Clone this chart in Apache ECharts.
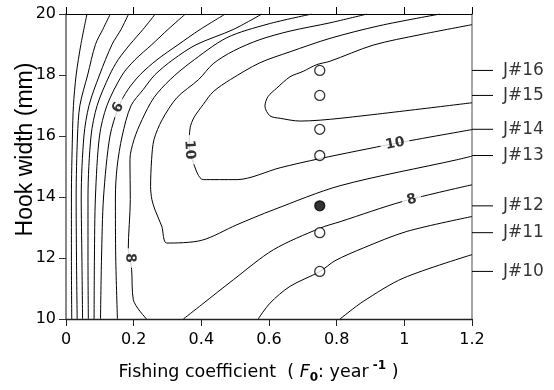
<!DOCTYPE html>
<html>
<head>
<meta charset="utf-8">
<script src="https://cdn.jsdelivr.net/npm/echarts@6/dist/echarts.min.js"></script>
<style>
  html, body { margin: 0; padding: 0; background: #fff; }
  #chart { width: 554px; height: 390px; }
</style>
</head>
<body>
<div id="chart"></div>
<script>
// axis ticks
const xTicks = [0, 0.2, 0.4, 0.6, 0.8, 1, 1.2];
const yTicks = [10, 12, 14, 16, 18, 20];

// contour lines, points are [F0, hook width]
const c1 = [[0.062, 20], [0.044, 19], [0.030, 18], [0.022, 17], [0.019, 16], [0.016, 14], [0.016, 12], [0.017, 10]];
const c2 = [[0.131, 20], [0.109, 19.5], [0.087, 19], [0.064, 18], [0.041, 17], [0.034, 16], [0.030, 14], [0.031, 12], [0.033, 10]];
const c3 = [[0.185, 20], [0.163, 19.5], [0.136, 19], [0.099, 18], [0.068, 17], [0.053, 16], [0.045, 14], [0.047, 12], [0.049, 10]];
const c4 = [[0.264, 20], [0.228, 19.5], [0.189, 19], [0.154, 18.5], [0.129, 18], [0.092, 17], [0.074, 16], [0.065, 14], [0.065, 12], [0.066, 10]];
const c5 = [[0.353, 20], [0.302, 19.5], [0.254, 19], [0.204, 18.5], [0.166, 18], [0.121, 17], [0.099, 16], [0.087, 14], [0.084, 12], [0.083, 10]];
const c6 = [[0.471, 20], [0.396, 19.49], [0.331, 18.99], [0.269, 18.5], [0.219, 18.01], [0.183, 17.52], [0.157, 16.99], [0.130, 16], [0.111, 14], [0.105, 12], [0.102, 10]];
const c6b = [[0.810, 10], [0.879, 10.58], [0.997, 11.34], [1.2, 12.11]];
const c7 = [[0.579, 20], [0.494, 19.49], [0.384, 18.99], [0.316, 18.5], [0.263, 18.01], [0.228, 17.52], [0.192, 16.99], [0.166, 16], [0.151, 14.98], [0.146, 14], [0.147, 12], [0.152, 10]];
const c7b = [[0.568, 10], [0.603, 10.52], [0.662, 11.07], [0.751, 11.56], [0.795, 11.91], [0.879, 12.33], [1.007, 12.87], [1.2, 13.36]];
const c8 = [[0.727, 20], [0.597, 19.67], [0.475, 19.22], [0.367, 18.40], [0.308, 17.85], [0.260, 17.26], [0.225, 16.54], [0.201, 15.88],
  [0.189, 15.23], [0.190, 13.92], [0.184, 12.28], [0.189, 12.0], [0.194, 11.62], [0.199, 10.63], [0.238, 10]];
const c8b = [[0.347, 10], [0.401, 10.47], [0.495, 11.29], [0.613, 12.27], [0.751, 12.98], [0.810, 13.19], [0.997, 13.86], [1.2, 14.40]];
const c9 = [[0.890, 20], [0.780, 19.71], [0.662, 19.44], [0.573, 19.16], [0.495, 18.79], [0.435, 18.37], [0.392, 17.85], [0.328, 17.26],
  [0.284, 16.53], [0.260, 15.88], [0.253, 15.22], [0.250, 14.34], [0.254, 13.91], [0.263, 13.58], [0.283, 13.04], [0.298, 12.49],
  [0.401, 12.58], [0.505, 13.09], [0.613, 13.58], [0.810, 14.37], [1.155, 15.22], [1.2, 15.34]];
const c10 = [[1.106, 20], [0.928, 19.62], [0.780, 19.20], [0.662, 18.76], [0.573, 18.40], [0.486, 17.85], [0.435, 17.45], [0.406, 17.04],
  [0.378, 16.60], [0.367, 16.27], [0.364, 15.71], [0.375, 15.16], [0.406, 14.57], [0.505, 14.57], [0.633, 14.96], [0.751, 15.26],
  [0.970, 15.75], [1.2, 16.21]];
const c11 = [[1.2, 19.65], [1.046, 19.32], [0.908, 18.98], [0.780, 18.45], [0.741, 18.34], [0.701, 18.12], [0.662, 17.94], [0.623, 17.57],
  [0.597, 17.29], [0.588, 16.98], [0.603, 16.66], [0.633, 16.58], [0.692, 16.49], [0.810, 16.58], [1.2, 17.09]];

// contour level labels
const contourLabelText = ['6', '10', '8', '10', '8'];
const contourLabelAt = [[0.154, 16.93], [0.365, 15.55], [0.189, 12.0], [0.9725, 15.75], [1.022, 13.91]];

// experiments J#10 .. J#16
const jLabels = ['J#10', 'J#11', 'J#12', 'J#13', 'J#14', 'J#15', 'J#16'];
const jHook = [11.56, 12.83, 13.71, 15.36, 16.22, 17.33, 18.15];
const jF = 0.75;
const jFilled = 'J#12';

const labelAngles = [61, -86, -88, 11, 15];
const contours = [c1, c2, c3, c4, c5, c6, c6b, c7, c7b, c8, c8b, c9, c10, c11];

const chart = echarts.init(document.getElementById('chart'));

const font = 'DejaVu Sans';
const nameRich = {
  n: {fontFamily: font, fontSize: 17.5, color: '#000', lineHeight: 24, verticalAlign: 'middle'},
  it: {fontFamily: font, fontSize: 17.5, fontStyle: 'italic', color: '#000', lineHeight: 24, verticalAlign: 'middle'},
  sub: {fontFamily: font, fontSize: 12, fontWeight: 'bold', color: '#000', lineHeight: 12, verticalAlign: 'bottom'},
  sup: {fontFamily: font, fontSize: 12, fontWeight: 'bold', color: '#000', lineHeight: 14, verticalAlign: 'top'}
};

// J marker ticks: short segments in a narrow grid to the right of the plot
const jTickData = [];
jHook.forEach(h => { jTickData.push([0, h], [1, h], '-'); });

const option = {
  animation: false,
  backgroundColor: '#fff',
  grid: [
    {left: 66, right: 82, top: 14, bottom: 71, outerBoundsMode: 'none'},
    {left: 472, right: 61, top: 14, bottom: 71, outerBoundsMode: 'none'}
  ],
  xAxis: [
    {
      type: 'value',
      min: xTicks[0],
      max: xTicks[xTicks.length - 1],
      interval: xTicks[1] - xTicks[0],
      name: '{n|Fishing coefficient  ( }{it|F}{sub|0}{n|: year}{sup| -1}{n| )}',
      nameLocation: 'middle',
      nameGap: 41,
      nameMoveOverlap: false,
      nameTextStyle: {rich: nameRich, padding: [0, 21, 0, 0]},
      axisLine: {onZero: false, lineStyle: {color: '#222', width: 1.3}},
      axisTick: {length: 7, lineStyle: {color: '#222'}},
      axisLabel: {margin: 13, fontFamily: font, fontSize: 16, color: '#000'},
      splitLine: {show: false}
    },
    {
      type: 'value',
      position: 'top',
      min: xTicks[0],
      max: xTicks[xTicks.length - 1],
      interval: xTicks[1] - xTicks[0],
      axisLine: {show: true, onZero: false, lineStyle: {color: '#000', width: 1}},
      axisTick: {show: true, length: 7, lineStyle: {color: '#000'}},
      axisLabel: {show: false},
      splitLine: {show: false}
    },
    {gridIndex: 1, type: 'value', min: 0, max: 1, show: false}
  ],
  yAxis: [
    {
      type: 'value',
      min: yTicks[0],
      max: yTicks[yTicks.length - 1],
      interval: yTicks[1] - yTicks[0],
      name: 'Hook width (mm)',
      nameLocation: 'middle',
      nameGap: 29,
      nameMoveOverlap: false,
      nameTextStyle: {fontFamily: 'Liberation Sans', fontSize: 23, color: '#000', padding: [0, 0, 0, 34]},
      axisLine: {show: true, onZero: false, lineStyle: {color: '#888', width: 2}},
      axisTick: {show: true, length: 7, lineStyle: {color: '#333'}},
      axisLabel: {margin: 10, fontFamily: font, fontSize: 16, color: '#000'},
      splitLine: {show: false}
    },
    {
      type: 'value',
      position: 'right',
      min: yTicks[0],
      max: yTicks[yTicks.length - 1],
      axisLine: {show: true, onZero: false, lineStyle: {color: '#888', width: 1.5}},
      axisTick: {show: false},
      axisLabel: {show: false},
      splitLine: {show: false}
    },
    {gridIndex: 1, type: 'value', min: yTicks[0], max: yTicks[yTicks.length - 1], show: false}
  ],
  series: [
    ...contours.map(d => ({
      type: 'line',
      data: d,
      symbol: 'none',
      smooth: 0.3,
      silent: true,
      lineStyle: {color: '#000', width: 1},
      z: 2
    })),
    {
      type: 'scatter',
      symbolSize: 0,
      silent: true,
      data: contourLabelAt.map((p, i) => ({value: p, label: {rotate: labelAngles[i]}})),
      label: {
        show: true,
        position: 'inside',
        formatter: p => contourLabelText[p.dataIndex],
        fontFamily: font,
        fontWeight: 'bold',
        fontSize: 14,
        color: '#000',
        backgroundColor: '#fff',
        padding: [0, 5]
      },
      z: 5
    },
    {
      type: 'scatter',
      symbol: 'circle',
      symbolSize: 10,
      silent: true,
      data: jHook.filter((h, i) => jLabels[i] !== jFilled).map(h => [jF, h]),
      itemStyle: {color: '#fff', borderColor: '#000', borderWidth: 1.3},
      z: 4
    },
    {
      type: 'scatter',
      symbol: 'circle',
      symbolSize: 10,
      silent: true,
      data: jHook.filter((h, i) => jLabels[i] === jFilled).map(h => [jF, h]),
      itemStyle: {color: '#000', borderColor: '#000', borderWidth: 1.3},
      z: 4
    },
    {
      type: 'line',
      xAxisIndex: 2,
      yAxisIndex: 2,
      data: jTickData,
      symbol: 'none',
      silent: true,
      connectNulls: false,
      lineStyle: {color: '#000', width: 1}
    },
    {
      type: 'scatter',
      xAxisIndex: 2,
      yAxisIndex: 2,
      symbolSize: 0,
      silent: true,
      data: jHook.map(h => [1, h]),
      label: {
        show: true,
        position: 'right',
        distance: 10,
        formatter: p => jLabels[p.dataIndex],
        fontFamily: font,
        fontSize: 17,
        color: '#000'
      }
    }
  ]
};

chart.setOption(option);
</script>
</body>
</html>
